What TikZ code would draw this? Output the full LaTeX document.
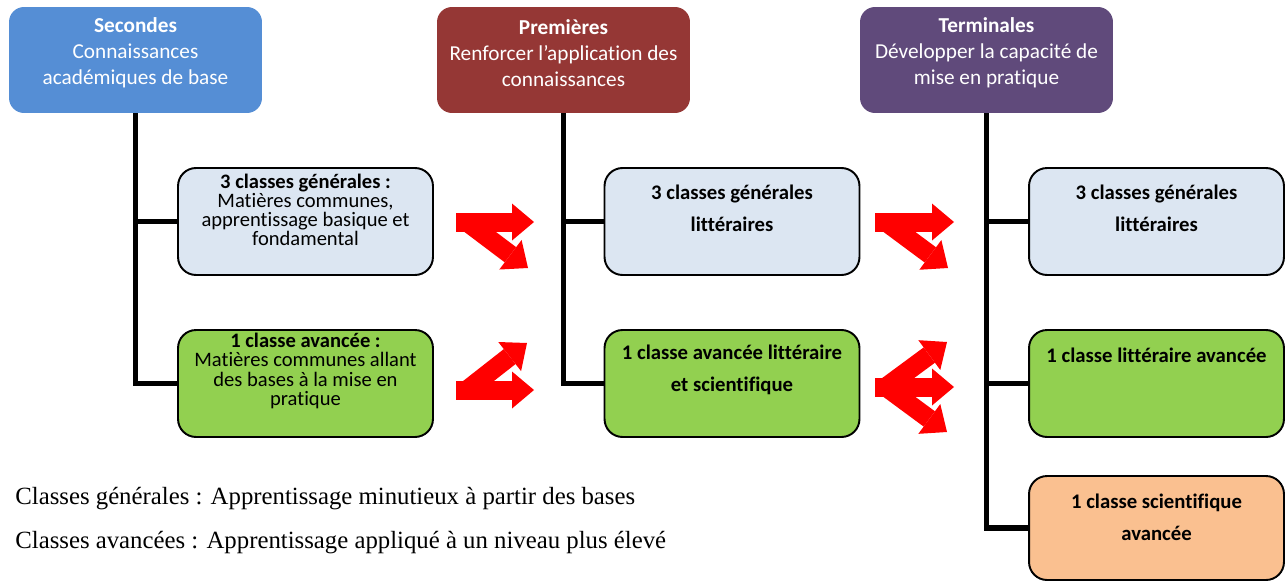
\documentclass[tikz,border=0pt]{standalone}
\usepackage{fontspec}
\setmainfont{Carlito}[Ligatures=NoCommon]
\newfontfamily\notefont{Liberation Serif}
\usetikzlibrary{arrows.meta}

\definecolor{secblue}{RGB}{85,142,213}
\definecolor{prered}{RGB}{149,55,53}
\definecolor{terpurple}{RGB}{96,74,123}
\definecolor{genblue}{RGB}{220,230,242}
\definecolor{avgreen}{RGB}{146,208,80}
\definecolor{sciorange}{RGB}{250,192,144}

\tikzset{
  headbox/.style={rounded corners=0.3cm, minimum width=5.06cm, minimum height=2.12cm, inner sep=0pt},
  classbox/.style={draw=black, line width=1.1pt, rounded corners=0.36cm, minimum width=5.1cm, minimum height=2.14cm, inner sep=0pt},
  headtxt/.style={text=white, align=center, font=\fontsize{12.1}{14.8}\selectfont},
  classtxt/.style={align=center, font=\fontsize{11.7}{10.9}\selectfont},
  boldtxt/.style={align=center, font=\bfseries\fontsize{11.8}{18.2}\selectfont},
  branch/.style={line width=3.4pt},
  bigarrow/.style={red, line width=0.38cm, -{Triangle[width=0.74cm, length=0.44cm, line width=0pt]}},
}

\begin{document}
\begin{tikzpicture}[x=0.02cm, y=-0.02cm]
    \useasboundingbox (0,0) rectangle (1288,582);

    % en-tetes
    \node[headbox, fill=secblue] (sec) at (135.5,60) {};
    \node[headbox, fill=prered] (pre) at (563.5,60) {};
    \node[headbox, fill=terpurple] (ter) at (986.5,60) {};
    \node[headtxt] (sect) at (135.5,53) {\textbf{Secondes}\\Connaissances\\académiques de base};
    \node[headtxt] (pret) at (563.5,53) {\textbf{Premières}\\Renforcer l’application des\\connaissances};
    \node[headtxt] (tert) at (986.5,53) {\textbf{Terminales}\\Développer la capacité de\\mise en pratique};

    % classes
    \node[classbox, fill=genblue] (g1) at (305.5,221.5) {};
    \node[classbox, fill=avgreen] (a1) at (305.5,383.5) {};
    \node[classbox, fill=genblue] (g2) at (732,221.5) {};
    \node[classbox, fill=avgreen] (a2) at (732,383.5) {};
    \node[classbox, fill=genblue] (g3) at (1156.5,221.5) {};
    \node[classbox, fill=avgreen] (l3) at (1156.5,383.5) {};
    \node[classbox, fill=sciorange, minimum height=2.08cm] (s3) at (1156.5,528) {};

    \node[classtxt] (g1t) at (305.5,210) {\textbf{3 classes générales :}\\Matières communes,\\apprentissage basique et\\fondamental};
    \node[classtxt] (a1t) at (305.5,371) {\textbf{1 classe avancée :}\\Matières communes allant\\des bases à la mise en\\pratique};
    \node[boldtxt] (g2t) at (732,208) {3 classes générales\\littéraires};
    \node[boldtxt] (a2t) at (732,370) {1 classe avancée littéraire\\et scientifique};
    \node[boldtxt] (g3t) at (1156.5,208) {3 classes générales\\littéraires};
    \node[boldtxt] (l3t) at (1156.5,355) {1 classe littéraire avancée};
    \node[boldtxt] (s3t) at (1156.5,517) {1 classe scientifique\\avancée};

    % liaisons
    \draw[branch] (sec.south) |- (g1.west);
    \draw[branch] (sec.south) |- (a1.west);
    \draw[branch] (pre.south) |- (g2.west);
    \draw[branch] (pre.south) |- (a2.west);
    \draw[branch] (ter.south) |- (g3.west);
    \draw[branch] (ter.south) |- (l3.west);
    \draw[branch] (ter.south) |- (s3.west);

    % fleches
    \draw[bigarrow] (456,222) -- (534,222);
    \draw[bigarrow] (467,222) -- (528,268);
    \draw[bigarrow] (456,390) -- (534,390);
    \draw[bigarrow] (467,390) -- (527,343);
    \draw[bigarrow] (875,222) -- (954,222);
    \draw[bigarrow] (886,222) -- (948,268);
    \draw[bigarrow] (875,387) -- (954,387);
    \draw[bigarrow] (886,387) -- (947,342);
    \draw[bigarrow] (886,387) -- (947,432);

    % legende
    \node[anchor=west, inner sep=0pt, font=\notefont\fontsize{14.1}{16}\selectfont] (leg1) at (15,499) {Classes générales : Apprentissage minutieux à partir des bases};
    \node[anchor=west, inner sep=0pt, font=\notefont\fontsize{14.1}{16}\selectfont] (leg2) at (15,543) {Classes avancées : Apprentissage appliqué à un niveau plus élevé};
\end{tikzpicture}
\end{document}
